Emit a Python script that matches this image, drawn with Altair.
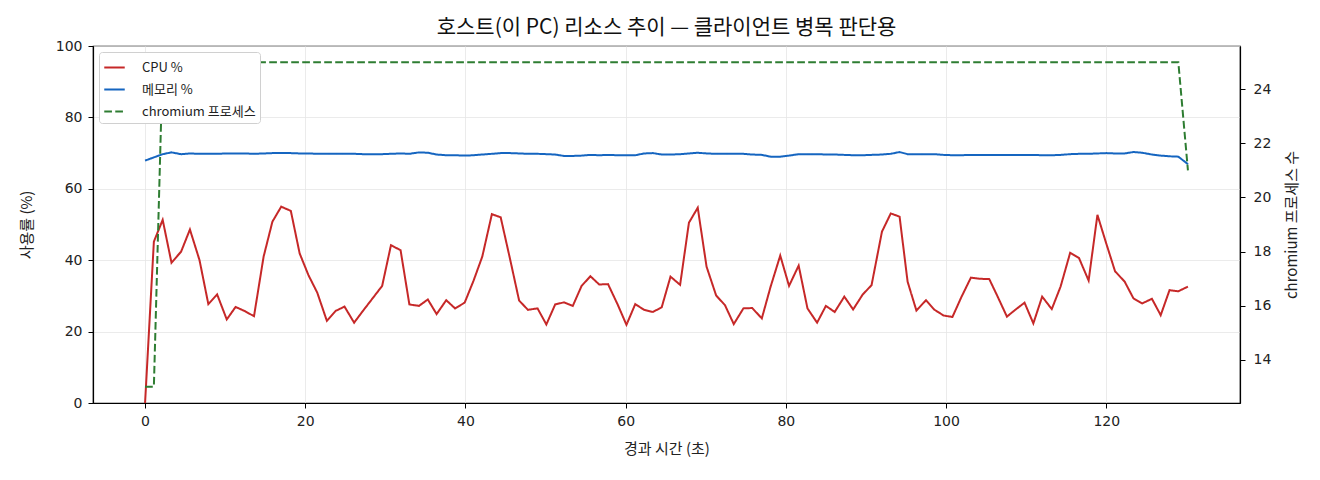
import altair as alt
import pandas as pd

times = [0.0, 1.1, 2.2, 3.3, 4.5, 5.6, 6.8, 7.9, 9.0, 10.2, 11.3, 12.5, 13.6, 14.8, 15.9, 17.0, 18.2, 19.3,
         20.4, 21.5, 22.7, 23.8, 24.9, 26.1, 27.2, 28.4, 29.6, 30.7, 31.9, 33.0, 34.2, 35.3, 36.4, 37.6,
         38.7, 39.9, 41.0, 42.1, 43.3, 44.4, 45.6, 46.7, 47.8, 49.0, 50.1, 51.2, 52.3, 53.4, 54.5, 55.6,
         56.7, 57.8, 59.0, 60.1, 61.2, 62.3, 63.4, 64.5, 65.6, 66.8, 67.9, 69.0, 70.1, 71.3, 72.4, 73.5,
         74.7, 75.8, 77.0, 78.1, 79.3, 80.4, 81.6, 82.7, 83.9, 85.0, 86.1, 87.3, 88.4, 89.6, 90.7, 92.0,
         93.1, 94.2, 95.2, 96.3, 97.5, 98.5, 99.7, 100.8, 101.9, 103.1, 104.2, 105.4, 106.4, 107.6, 108.7,
         109.8, 110.9, 112.0, 113.2, 114.3, 115.5, 116.6, 117.8, 118.9, 120.0, 121.1, 122.3, 123.4, 124.5,
         125.7, 126.8, 127.9, 129.0, 130.2]

cpu = [0.0, 45.2, 51.3, 39.3, 42.4, 48.6, 40.0, 27.7, 30.4, 23.4, 26.9, 25.7, 24.3, 41.0, 50.8, 55.0, 53.8, 41.9,
       35.8, 30.9, 23.0, 25.8, 27.0, 22.5, 25.8, 29.3, 32.8, 44.2, 42.8, 27.6, 27.2, 29.0, 24.9, 28.8,
       26.5, 28.1, 34.2, 41.0, 52.9, 52.0, 40.0, 28.7, 26.1, 26.5, 22.0, 27.6, 28.2, 27.2, 32.8, 35.5,
       33.2, 33.3, 27.6, 21.9, 27.7, 26.1, 25.5, 26.8, 35.4, 33.1, 50.5, 54.7, 38.2, 30.1, 27.4, 22.1,
       26.5, 26.6, 23.7, 32.6, 41.3, 32.8, 38.5, 26.5, 22.5, 27.2, 25.5, 29.8, 26.2, 30.4, 33.0, 48.0,
       53.1, 52.2, 34.0, 25.9, 28.8, 26.2, 24.5, 24.1, 29.6, 35.1, 34.8, 34.7, 30.0, 24.2, 26.2,
       28.1, 22.3, 29.8, 26.3, 32.6, 42.1, 40.6, 34.3, 52.7, 44.7, 36.9, 34.0, 29.3, 27.9,
       29.2, 24.6, 31.6, 31.3, 32.6]

memory = [67.9, 68.8, 69.7, 70.2, 69.7, 69.9, 69.8, 69.8, 69.8, 69.9, 69.9, 69.9, 69.8, 69.9, 70.0, 70.0, 70.0, 69.9,
          69.9, 69.8, 69.8, 69.8, 69.8, 69.8, 69.7, 69.7, 69.7, 69.8, 69.9, 69.8, 70.2, 70.1, 69.6, 69.4,
          69.4, 69.3, 69.4, 69.6, 69.8, 70.0, 70.0, 69.9, 69.8, 69.8, 69.7, 69.6, 69.2, 69.2, 69.3, 69.5,
          69.4, 69.5, 69.4, 69.4, 69.4, 69.9, 70.0, 69.6, 69.6, 69.7, 69.9, 70.1, 69.9, 69.8, 69.8, 69.8,
          69.8, 69.6, 69.5, 69.0, 69.0, 69.3, 69.7, 69.7, 69.7, 69.6, 69.6, 69.5, 69.4, 69.4, 69.5, 69.6,
          69.8, 70.3, 69.7, 69.7, 69.7, 69.7, 69.5, 69.4, 69.4, 69.5, 69.5, 69.5, 69.5, 69.5, 69.5,
          69.5, 69.5, 69.4, 69.4, 69.5, 69.7, 69.8, 69.8, 69.9, 70.0, 69.9, 69.9, 70.3, 70.1,
          69.6, 69.3, 69.1, 69.0, 66.9]

chromium = [13, 13] + [25] * 113 + [21]

names = ["CPU %", "메모리 %", "chromium 프로세스"]
colors = ["#c62828", "#1565c0", "#2e7d32"]
dashes = [[1, 0], [1, 0], [7.7, 3.3]]

FONT = "Noto Sans CJK KR"
NUMFONT = "DejaVu Sans"

left_df = pd.concat([
    pd.DataFrame({"t": times, "value": cpu, "series": names[0]}),
    pd.DataFrame({"t": times, "value": memory, "series": names[1]}),
])
right_df = pd.DataFrame({"t": times, "value": chromium, "series": names[2]})

color_scale = alt.Scale(domain=names, range=colors)
dash_scale = alt.Scale(domain=names, range=dashes)

legend = alt.Legend(
    title=None, orient="none", legendX=6, legendY=6,
    symbolType="stroke", symbolSize=420, symbolStrokeWidth=2,
    labelFont=FONT, labelFontSize=13, labelColor="#222222", labelOffset=16,
    fillColor="white", strokeColor="#d0d0d0", padding=4, cornerRadius=3,
    rowPadding=3, labelLimit=300,
)

x_enc = alt.X("t:Q", scale=alt.Scale(domain=[-6.5, 136.7], nice=False, zero=False),
              axis=alt.Axis(title="경과 시간 (초)", values=[0, 20, 40, 60, 80, 100, 120],
                            format="d", grid=True, titlePadding=13))

left = alt.Chart(left_df).mark_line(strokeWidth=2).encode(
    x=x_enc,
    y=alt.Y("value:Q", scale=alt.Scale(domain=[0, 100], nice=False),
            axis=alt.Axis(title="사용률 (%)", values=[0, 20, 40, 60, 80, 100], grid=True,
                          titlePadding=21)),
    color=alt.Color("series:N", scale=color_scale, legend=legend),
    strokeDash=alt.StrokeDash("series:N", scale=dash_scale, legend=legend),
)

right = alt.Chart(right_df).mark_line(strokeWidth=2).encode(
    x=x_enc,
    y=alt.Y("value:Q", scale=alt.Scale(domain=[12.4, 25.6], nice=False, zero=False),
            axis=alt.Axis(title="chromium 프로세스 수", orient="right", values=[14, 16, 18, 20, 22, 24],
                          grid=False, titleAngle=270, titlePadding=14, titleBaseline="top",
                          labelPadding=8)),
    color=alt.Color("series:N", scale=color_scale, legend=legend),
    strokeDash=alt.StrokeDash("series:N", scale=dash_scale, legend=legend),
)

chart = alt.layer(left, right).resolve_scale(y="independent").properties(
    width=1147, height=357,
    title=alt.TitleParams("호스트(이 PC) 리소스 추이 — 클라이언트 병목 판단용", font=FONT, fontSize=21,
                          fontWeight="normal", color="#111111", offset=1),
    autosize=alt.AutoSizeParams(type="none"),
    padding={"left": 85, "top": 38, "right": 70, "bottom": 64},
).configure_view(stroke="black", strokeWidth=1.2).configure_axis(
    labelFont=NUMFONT, titleFont=FONT, labelFontSize=14, titleFontSize=15, titleFontWeight="normal",
    labelColor="#222222", titleColor="#222222", domainColor="black", tickColor="black",
    gridColor="#e6e6e6", gridWidth=0.8, tickSize=5, labelPadding=6, domainWidth=1.2,
)

chart.save("out.html", embed_options={"renderer": "svg", "actions": False})
